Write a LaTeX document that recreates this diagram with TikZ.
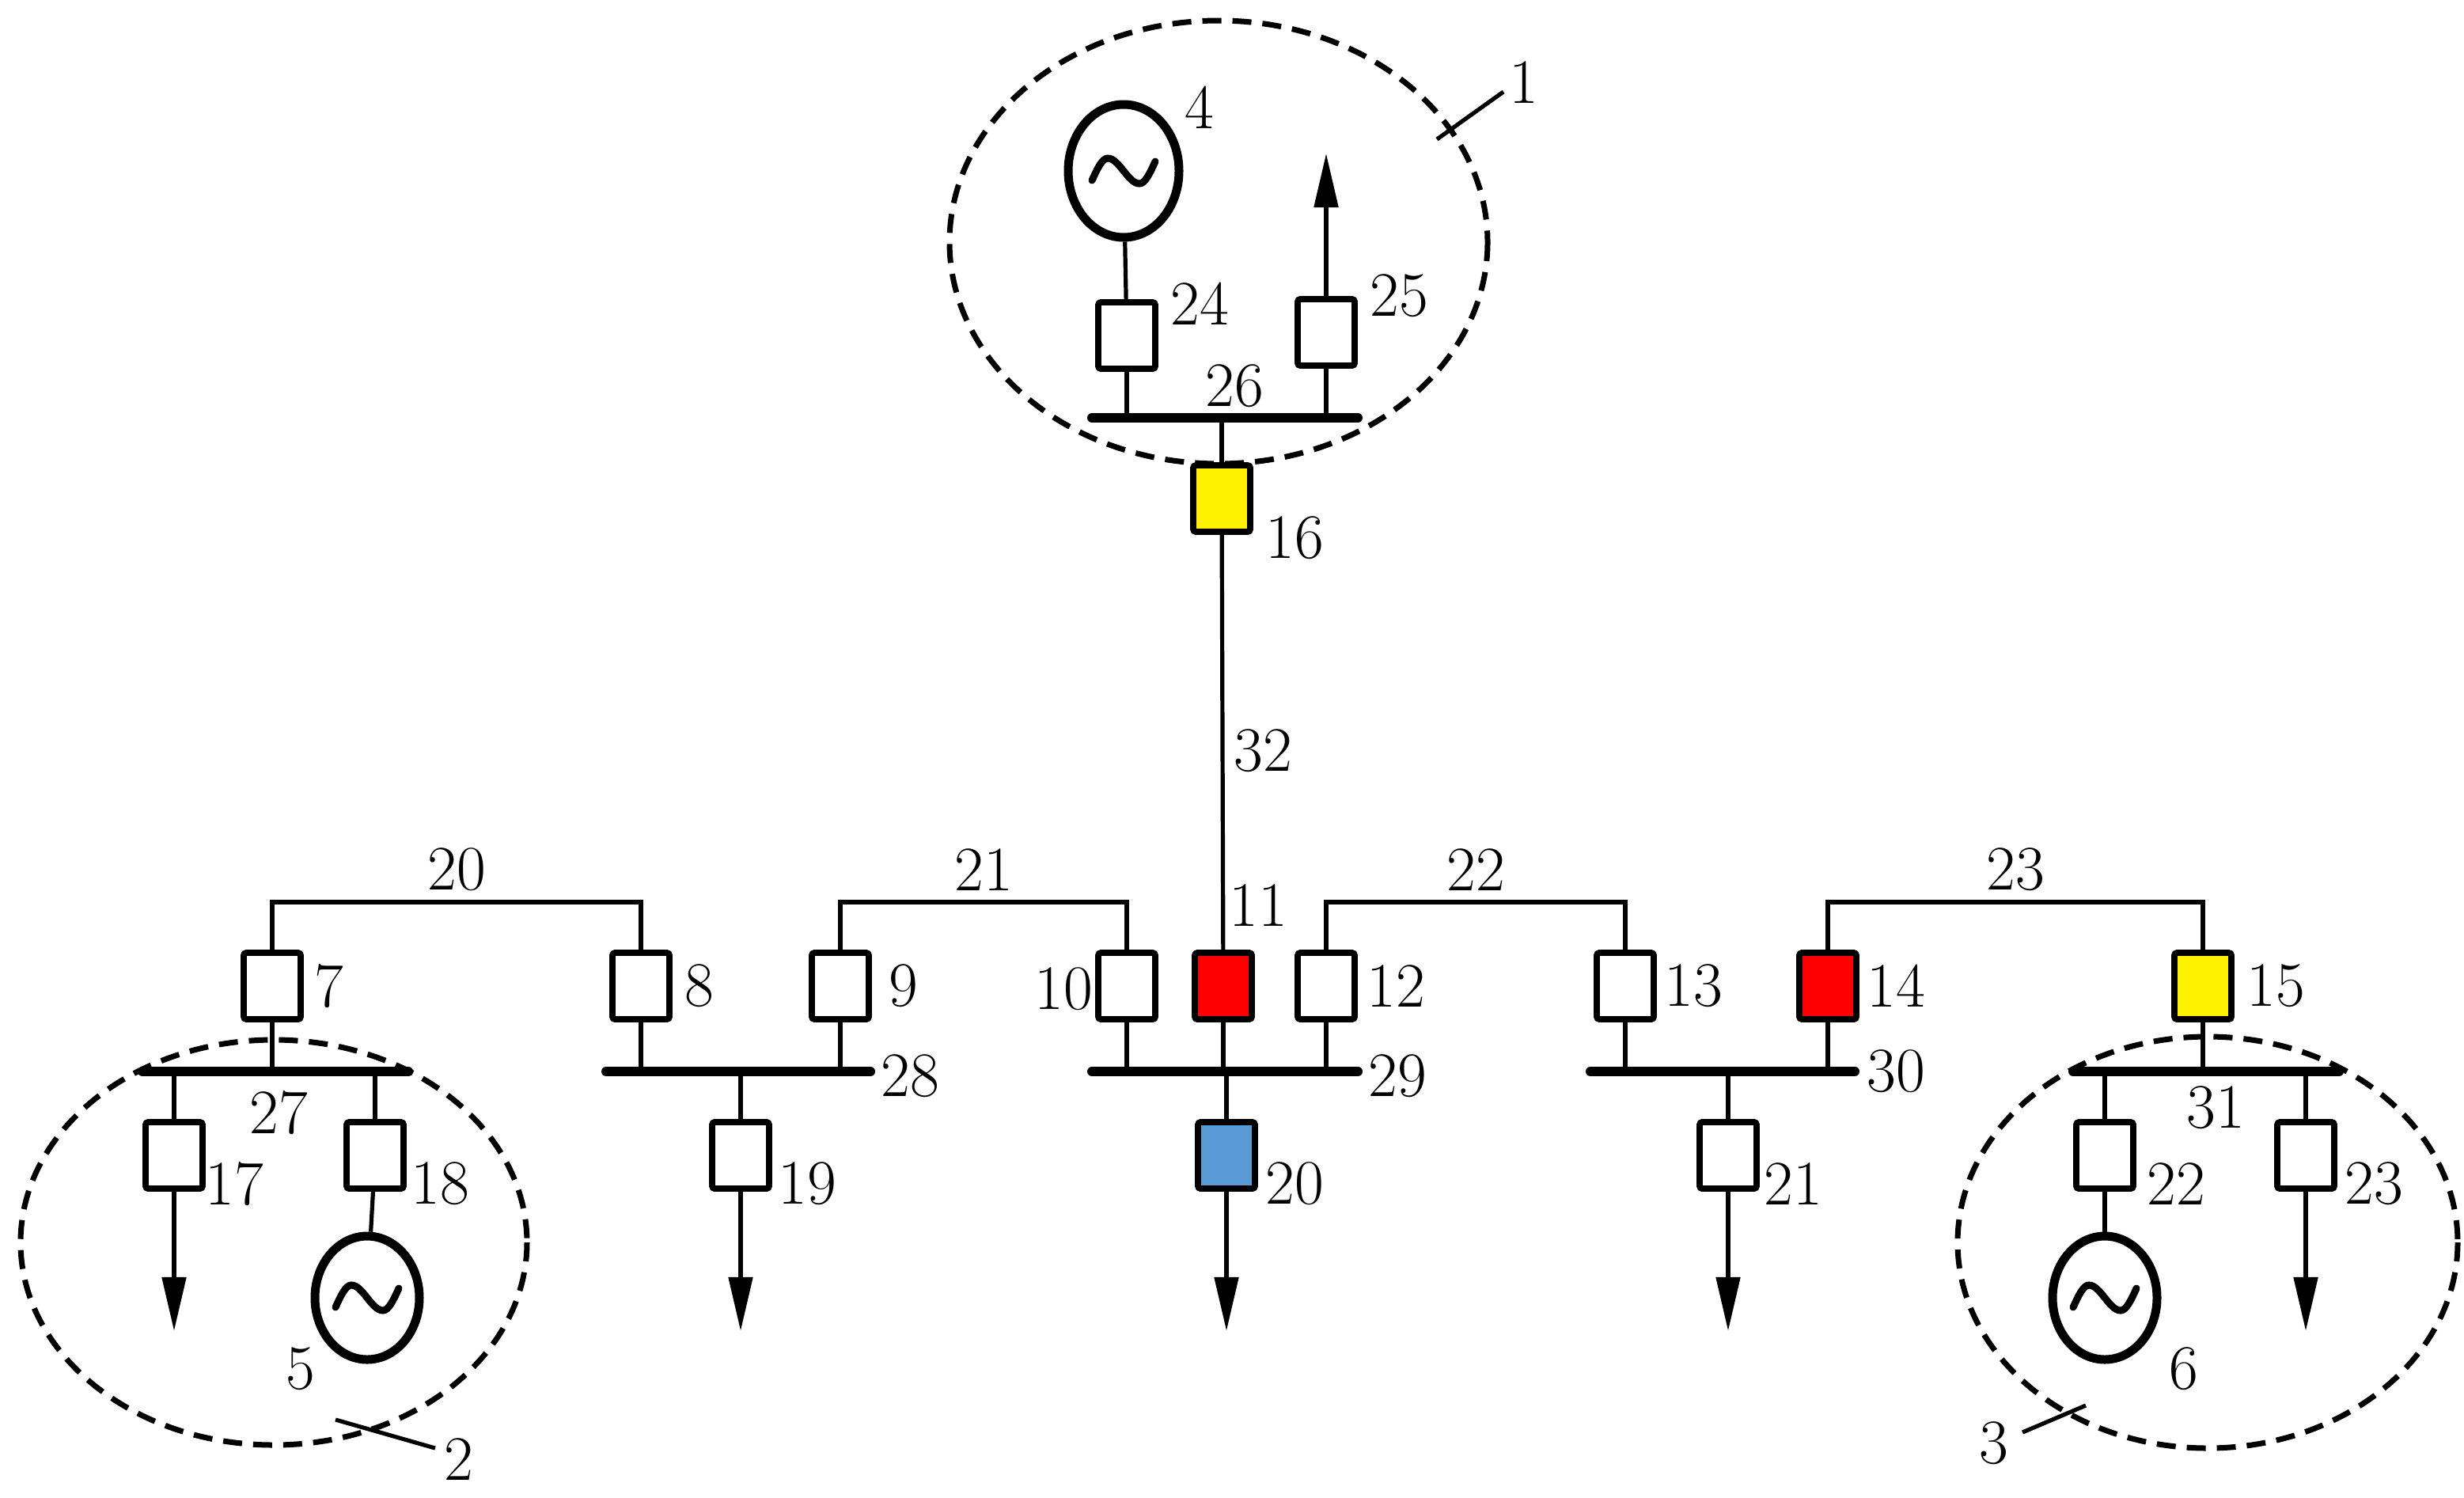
\documentclass[tikz,border=0pt]{standalone}
\usetikzlibrary{arrows.meta,calc,shapes.geometric}
\tikzset{
  brk/.style={draw,line width=3.8pt,minimum width=36pt,minimum height=42pt,inner sep=0pt,rounded corners=1.5pt},
  bus/.style={line width=6pt,line cap=round},
  gen/.style={draw,ellipse,line width=5.5pt,minimum width=70pt,minimum height=84pt,inner sep=0pt},
  wire/.style={line width=2.6pt},
  load/.style={line width=2.6pt,-{Triangle[length=34pt,width=15pt]}},
  zone/.style={line width=3.5pt,dash pattern=on 12pt off 7pt},
  lbl/.style={font=\fontsize{40}{44}\selectfont,inner sep=0pt}
}
\newcommand{\gentilde}[1]{\draw[line width=4.5pt,line cap=round] (#1.center) ++(-20,6) sin ++(10,-14) cos ++(10,8) sin ++(10,8) cos ++(10,-14);}
\begin{document}
\begin{tikzpicture}[x=1pt,y=-1pt]
\useasboundingbox (0,0) rectangle (1557,946);
% zones
\draw[zone] (770,153) ellipse (170 and 140);
\draw[zone] (173,785) ellipse (160 and 128);
\draw[zone] (1395,785) ellipse (158 and 130);
\draw[wire] (908,88) -- (950,58);
\draw[wire] (212,897) -- (275,915);
\draw[wire] (1278,905) -- (1318,888);
\node[lbl] at (963,52) {1};
\node[lbl] at (290,922) {2};
\node[lbl] at (1260,912) {3};
% top substation
\node[gen] (g4) at (710,108) {};
\gentilde{g4}
\node[brk] (b24) at (712,212) {};
\node[brk] (b25) at (838,210) {};
\coordinate (c25) at (838,97);
\coordinate (bus26a) at (690,264);
\coordinate (bus26b) at (858,264);
\draw[bus] (bus26a) -- (bus26b);
\node[brk,fill=yellow] (b16) at (772,315) {};
\draw[wire] (g4) -- (b24);
\draw[load] (b25) -- (c25);
\draw[wire] (b24.south) -- (b24.south |- bus26a);
\draw[wire] (b25.south) -- (b25.south |- bus26a);
\draw[wire] (b16.north) -- (b16.north |- bus26a);
\node[lbl] at (758,68) {4};
\node[lbl] at (758,192) {24};
\node[lbl] at (884,187) {25};
\node[lbl] at (780,244) {26};
\node[lbl] at (818,340) {16};
% breaker row
\foreach \n/\x/\c in {7/172/white,8/405/white,9/531/white,10/712/white,11/773/red,12/838/white,13/1027/white,14/1155/red,15/1392/yellow}
  \node[brk,fill=\c] (b\n) at (\x,623) {};
\draw[wire] (b16) -- (b11) node[lbl,pos=0.52,right=6pt] {32};
\foreach \a/\b/\t in {7/8/20,9/10/21,12/13/22,14/15/23}
  \draw[wire] (b\a.north) |- ($(b\a)!0.5!(b\b)+(0,-53)$) node[lbl,above=6pt] {\t} -| (b\b.north);
\foreach \n/\x in {7/208,8/442,9/571,12/882,13/1070,14/1198,15/1438}
  \node[lbl] at (\x,623) {\n};
\node[lbl] at (672,625) {10};
\node[lbl] at (795,572) {11};
% buses
\foreach \n/\xa/\xb in {27/90/258,28/383/550,29/690/858,30/1005/1172,31/1310/1478} {
  \coordinate (bus\n a) at (\xa,677);
  \coordinate (bus\n b) at (\xb,677);
  \draw[bus] (bus\n a) -- (bus\n b);
}
\foreach \n/\m in {7/27,8/28,9/28,10/29,11/29,12/29,13/30,14/30,15/31}
  \draw[wire] (b\n.south) -- (b\n.south |- bus\m a);
\node[lbl] at (176,703) {27};
\node[lbl] at (575,680) {28};
\node[lbl] at (883,680) {29};
\node[lbl] at (1198,677) {30};
\node[lbl] at (1400,700) {31};
% lower breakers
\definecolor{meas}{RGB}{91,155,213}
\foreach \n/\x/\c/\m in {17/110/white/27,18/237/white/27,19/468/white/28,20/775/meas/29,21/1092/white/30,22/1330/white/31,23/1457/white/31} {
  \node[brk,fill=\c] (b\n) at (\x,730) {};
  \draw[wire] (b\n.north) -- (b\n.north |- bus\m a);
}
\foreach \n/\x in {17/148,18/278,19/510,20/818,21/1133,22/1375,23/1500}
  \node[lbl] at (\x,748) {\n};
\foreach \n in {17,19,20,21,23} {
  \coordinate (c\n) at ($(b\n.south)+(0,88)$);
  \draw[load] (b\n) -- (c\n);
}
\node[gen,minimum width=66pt,minimum height=78pt] (g5) at (232,820) {};
\gentilde{g5}
\node[gen,minimum width=66pt,minimum height=78pt] (g6) at (1330,820) {};
\gentilde{g6}
\draw[wire] (b18) -- (g5);
\draw[wire] (b22) -- (g6);
\node[lbl] at (190,865) {5};
\node[lbl] at (1380,865) {6};
\end{tikzpicture}
\end{document}
